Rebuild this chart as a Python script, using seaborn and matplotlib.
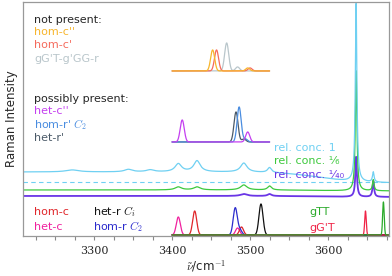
import numpy as np
import matplotlib.pyplot as plt
import seaborn as sns

# ---- data (wavenumbers in cm^-1, intensities in arbitrary units) ----
x_min, x_max = 3209, 3678

# experimental spectra: level before / after the free OH band + Lorentzian bands
exp_names = ['rel. conc. 1', 'rel. conc. \u00b9\u2044\u2086', 'rel. conc. \u00b9\u2044\u2084\u2080']
exp_colors = ['#6fd0f2', '#3dc93d', '#6a35e6']
exp_level_before = [64, 46, 40]
exp_level_after = [53, 45, 39]
exp_pos = [
    [3272, 3344, 3372, 3408, 3432, 3492, 3525, 3636, 3658],
    [3408, 3432, 3492, 3525, 3636, 3658],
    [3492, 3525, 3636, 3658],
]
exp_height = [
    [2, 2.5, 2, 8, 11, 9, 5, 178, 10],
    [3, 3, 5, 4, 120, 11],
    [2, 2, 40, 16],
]
exp_width = [
    [10, 6, 6, 5, 5, 5, 3, 1.2, 1.2],
    [5, 5, 5, 3, 1.2, 1.2],
    [5, 3, 1.2, 1.2],
]
exp_zero = 54  # dashed reference line

# calculated spectra (Gaussian bands), three groups with own offsets
not_names = ["gG'T-g'GG-r", "hom-c'", "hom-c''"]
not_colors = ['#b9c6cb', '#f56a5c', '#f7b52c']
not_pos = [[3470, 3484], [3457, 3500], [3452, 3497]]
not_height = [[28, 4], [21, 3], [21, 3]]
not_offset = 165

pos_names = ["het-r'", "hom-r' $C_2$", "het-c''"]
pos_colors = ['#4b5a68', '#4a8de0', '#c43ff0']
pos_pos = [[3482, 3492], [3486, 3494], [3413, 3497]]
pos_height = [[30, 3], [35, 3], [22, 10]]
pos_offset = 94

bot_names = ['het-c', 'hom-c', 'hom-r $C_2$', 'het-r $C_i$', "gG'T", 'gTT']
bot_colors = ['#f0219e', '#e0262a', '#2b2bcc', '#111111', '#f02346', '#2aaa2a']
bot_pos = [[3408, 3484], [3429, 3489], [3481, 3487], [3514], [3648], [3671]]
bot_height = [[18, 7], [24, 8], [27, 5], [31], [24], [33]]
bot_width = [2.6, 2.6, 2.6, 2.6, 1.0, 1.0]
bot_offset = 1


def gauss(x, pos, hgt, sig):
    return sum(h * np.exp(-(x - p) ** 2 / (2 * sig ** 2)) for p, h in zip(pos, hgt))


def lorentz(x, pos, hgt, gam):
    return sum(h / (1 + ((x - p) / g) ** 2) for p, h, g in zip(pos, hgt, gam))


sns.set_style('white')
plt.rcParams['mathtext.fontset'] = 'cm'
plt.rcParams['font.family'] = ['DejaVu Sans']

fig = plt.figure(figsize=(3.92, 2.76), dpi=100)
ax = fig.add_axes([0.059, 0.145, 0.933, 0.848])

nu = np.arange(x_min, x_max + 0.05, 0.1)
step = 1 / (1 + np.exp((nu - 3590) / 25))

#--- experimental spectra (most dilute first, so conc. 1 ends on top)
ax.axhline(exp_zero, color=exp_colors[0], lw=0.8, ls=(0, (4, 3)))
for i in [2, 1, 0]:
    y = exp_level_after[i] + (exp_level_before[i] - exp_level_after[i]) * step
    y = y + lorentz(nu, exp_pos[i], exp_height[i], exp_width[i])
    sns.lineplot(x=nu, y=y, color=exp_colors[i], lw=1.3 if i == 2 else 0.9, ax=ax)

#--- calculated: not present / possibly present insets
nu_in = np.arange(3400, 3525.05, 0.1)
for i in range(3):
    sns.lineplot(x=nu_in, y=not_offset + gauss(nu_in, not_pos[i], not_height[i], 2.6),
                 color=not_colors[i], lw=0.9, ax=ax)
for i in range(3):
    sns.lineplot(x=nu_in, y=pos_offset + gauss(nu_in, pos_pos[i], pos_height[i], 2.6),
                 color=pos_colors[i], lw=0.9, ax=ax)

#--- calculated: bottom
nu_b = np.arange(3400, x_max + 0.05, 0.1)
for i in range(len(bot_names)):
    sns.lineplot(x=nu_b, y=bot_offset + gauss(nu_b, bot_pos[i], bot_height[i], bot_width[i]),
                 color=bot_colors[i], lw=0.9, ax=ax)

#--- labels
fs = 8
ax.text(3223, 216, 'not present:', fontsize=fs, va='center')
for name, c, yy in zip(not_names[::-1], not_colors[::-1], [204, 191, 177]):
    ax.text(3223, yy, name, color=c, fontsize=fs, va='center')
ax.text(3223, 137, 'possibly present:', fontsize=fs, va='center')
for name, c, yy in zip(pos_names[::-1], pos_colors[::-1], [125, 111, 98]):
    ax.text(3223, yy, name, color=c, fontsize=fs, va='center')

for name, c, yy in zip(exp_names, exp_colors, [88, 75, 61]):
    ax.text(3531, yy, name, color=c, fontsize=fs, va='center')

ax.text(3223, 24, 'hom-c', color=bot_colors[1], fontsize=fs, va='center')
ax.text(3223, 9, 'het-c', color=bot_colors[0], fontsize=fs, va='center')
ax.text(3299, 24, 'het-r $C_i$', color=bot_colors[3], fontsize=fs, va='center')
ax.text(3299, 9, 'hom-r $C_2$', color=bot_colors[2], fontsize=fs, va='center')
ax.text(3576, 24, 'gTT', color=bot_colors[5], fontsize=fs, va='center')
ax.text(3576, 8, "gG'T", color=bot_colors[4], fontsize=fs, va='center')

#--- axes
ax.set_xlim(x_min, x_max)
ax.set_ylim(0, 234)
ax.set_yticks([])
ax.set_xticks([3300, 3400, 3500, 3600])
ax.set_xticks(np.arange(3225, x_max, 25), minor=True)
ax.tick_params(axis='x', which='both', direction='out', length=3, width=0.8,
               color='#888888', bottom=True, pad=4)
for lab in ax.get_xticklabels():
    lab.set_family('DejaVu Serif')
    lab.set_fontsize(8)
for s in ax.spines.values():
    s.set_color('#999999')
    s.set_linewidth(0.9)
ax.set_xlabel('$\\tilde{\\nu}$/cm$^{-1}$', fontsize=8.5, labelpad=2)
ax.set_ylabel('Raman Intensity', fontsize=8.5, labelpad=4)

plt.savefig('out.png', dpi=100)
